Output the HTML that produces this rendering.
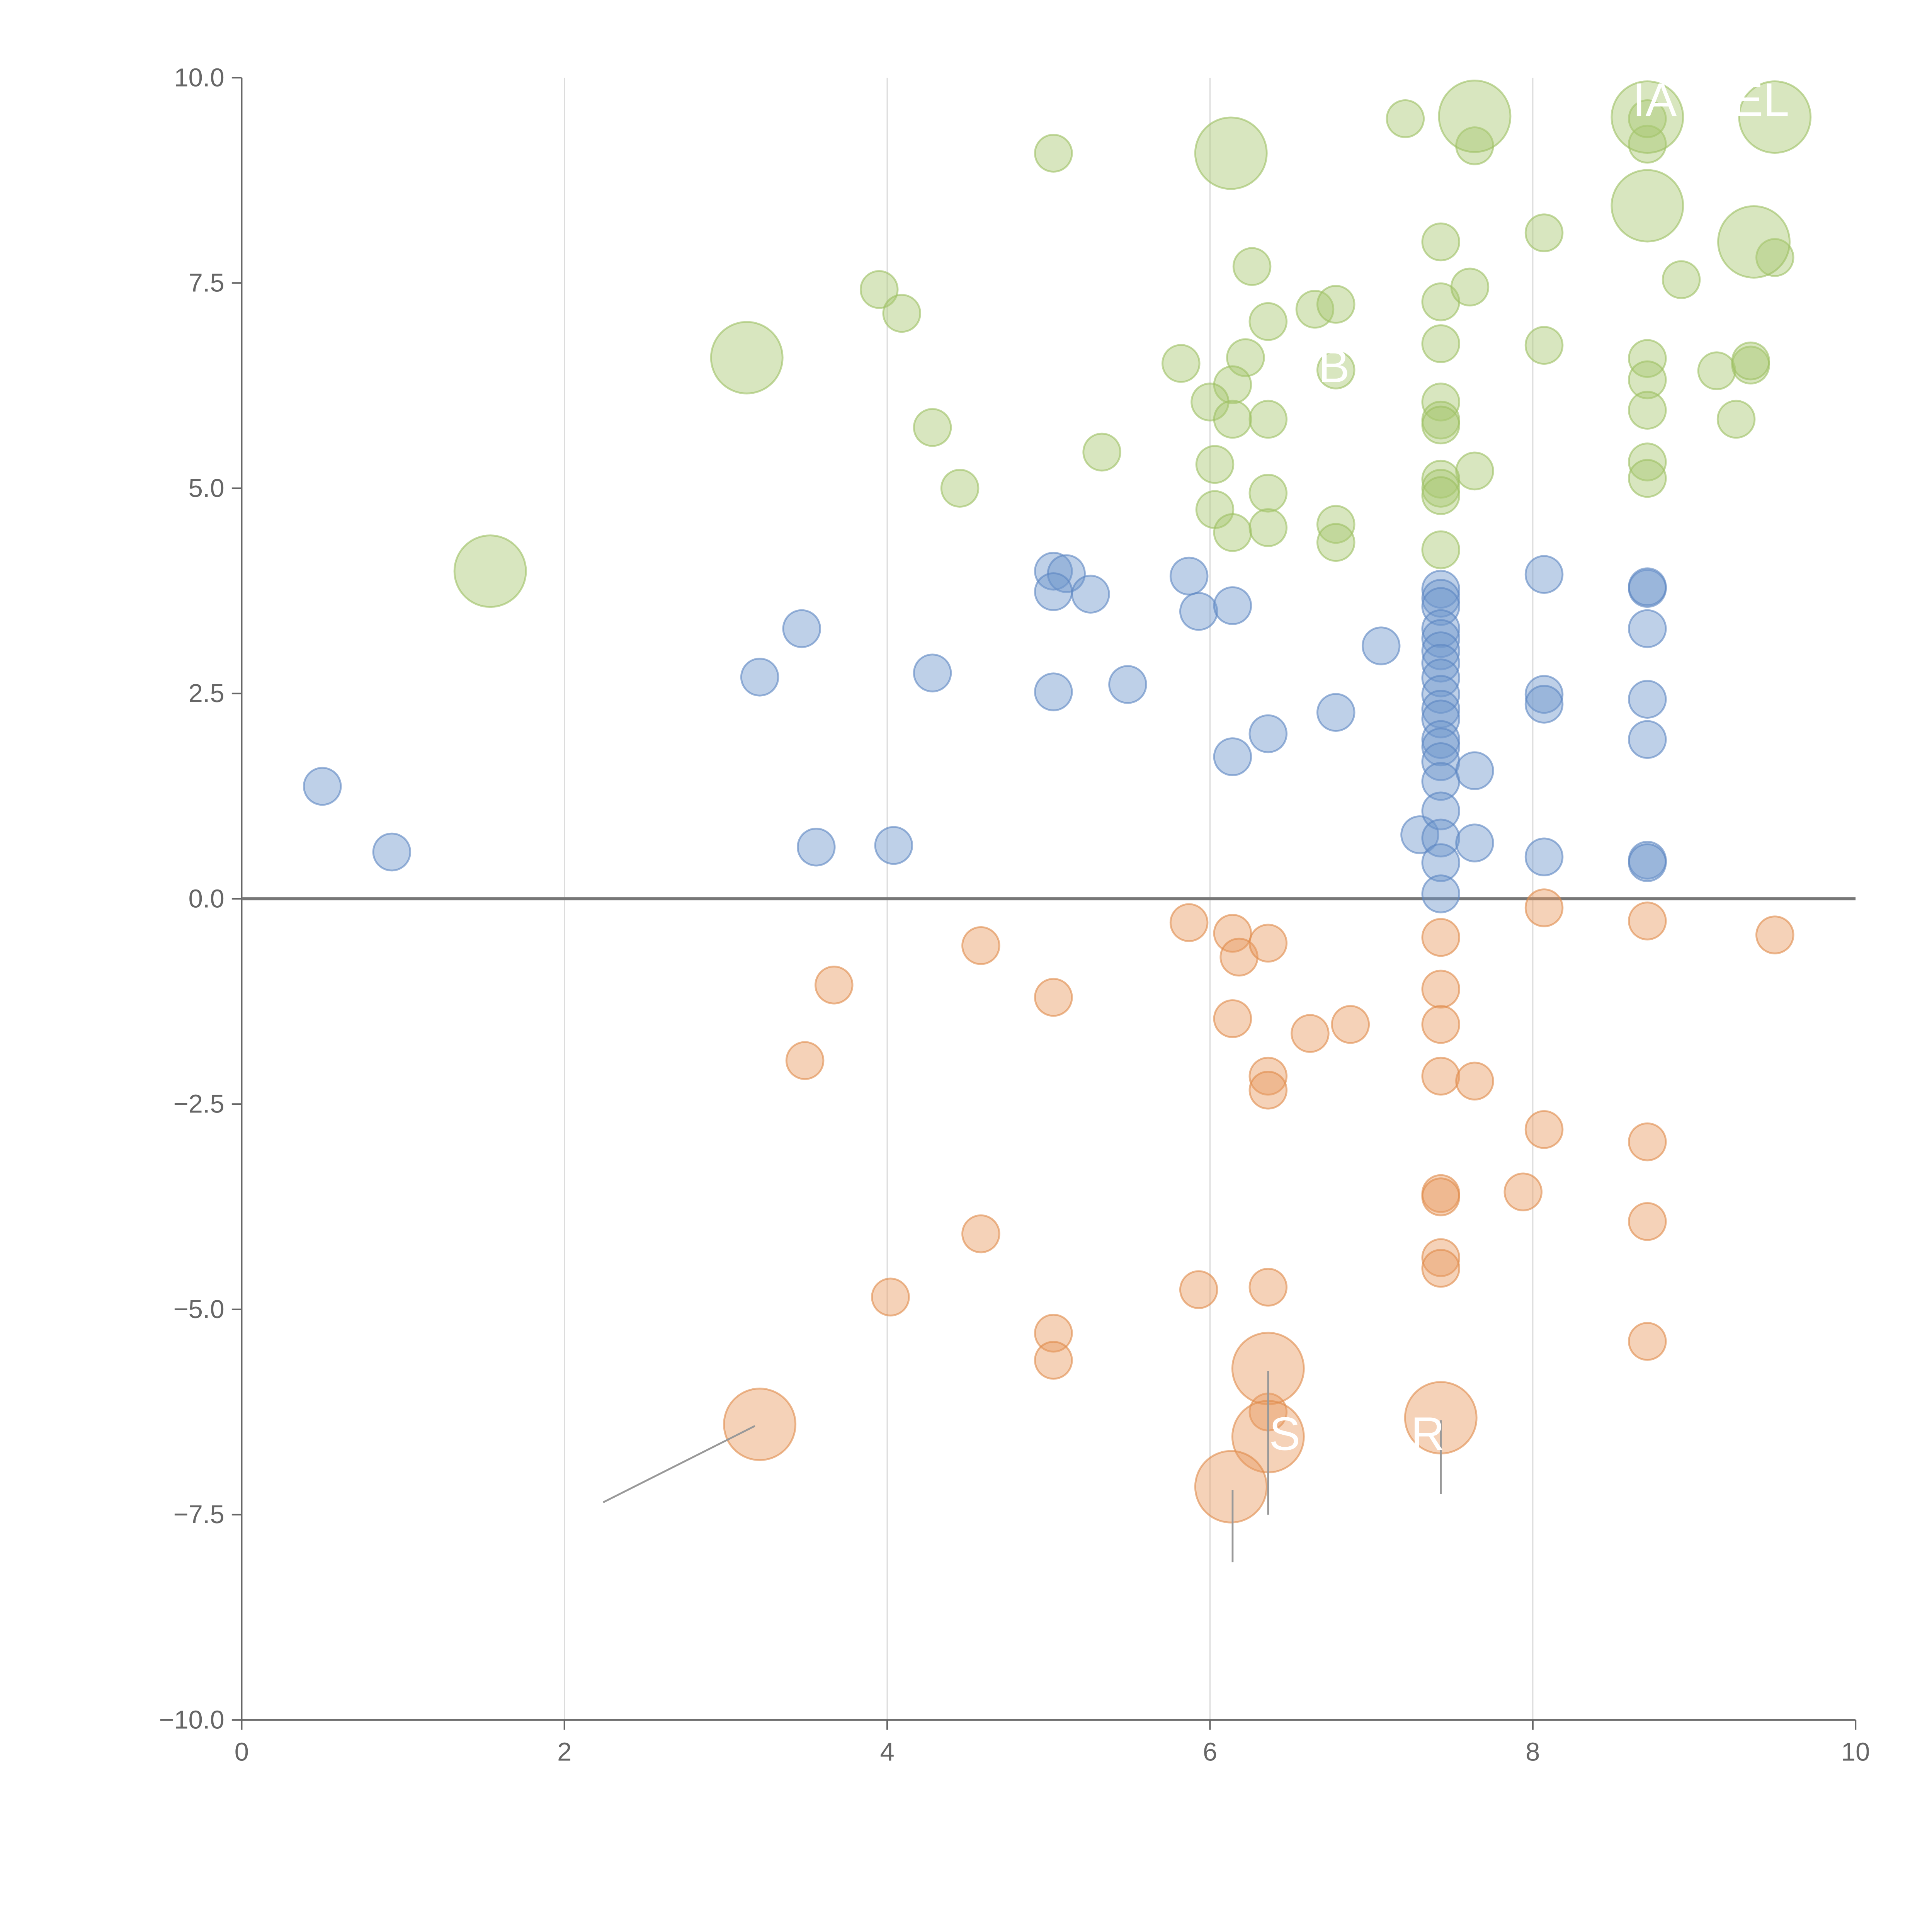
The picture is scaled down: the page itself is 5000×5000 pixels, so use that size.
<!DOCTYPE html>
<html><head><meta charset="utf-8"><style>
html,body{margin:0;padding:0;background:#fff}
svg{display:block}
text{font-family:"Liberation Sans",sans-serif}
</style></head><body>
<svg id="chart" width="5000" height="5000" viewBox="0 0 1567 1567" xmlns="http://www.w3.org/2000/svg">
<g id="grid"></g>
<g id="axes"></g>
<g id="marks"></g>
<g id="ann"></g>
</svg>
<script>
const xTicks=[0,2,4,6,8,10];
const yTicks=[10,7.5,5,2.5,0,-2.5,-5,-7.5,-10];
const yTickLabels=["10.0","7.5","5.0","2.5","0.0","\u22122.5","\u22125.0","\u22127.5","\u221210.0"];
const greenX=[5.03,7.21,7.64,7.43,8.07,6.26,3.95,4.09,6.36,6.65,6.78,7.43,7.61,7.43,8.07,5.82,6.22,6.14,6.78,6.00,6.14,6.36,7.43,7.43,7.43,4.28,5.33,6.03,7.64,4.45,7.43,7.43,7.43,6.03,6.36,6.14,6.36,6.78,6.78,7.43,8.71,8.71,8.71,8.71,8.71,8.71,8.71,8.92,9.14,9.35,9.35,9.26,9.50];
const greenY=[9.08,9.50,9.17,8.00,8.11,7.70,7.42,7.13,7.03,7.18,7.24,7.27,7.45,6.76,6.74,6.52,6.59,6.26,6.44,6.05,5.84,5.84,6.05,5.83,5.77,5.74,5.44,5.29,5.21,5.00,5.11,5.00,4.91,4.74,4.94,4.46,4.52,4.56,4.34,4.25,6.58,6.32,5.95,5.32,5.12,9.19,9.50,7.54,6.43,6.50,6.55,5.84,7.81];
const greenBigX=[1.54,3.13,6.13,7.64,8.71,8.71,9.37,9.50];
const greenBigY=[3.99,6.59,9.08,9.53,9.52,8.44,8.00,9.52];
const blueX=[0.50,0.93,3.21,3.47,3.56,4.04,4.28,5.03,5.11,5.03,5.26,5.03,5.49,5.87,5.93,6.14,6.14,6.36,6.78,7.06,7.30,7.43,7.43,7.43,7.43,7.43,7.43,7.43,7.43,7.43,7.43,7.43,7.43,7.43,7.43,7.43,7.43,7.43,7.43,7.43,7.64,7.64,8.07,8.07,8.07,8.07,8.71,8.71,8.71,8.71,8.71,8.71,8.71];
const blueY=[1.37,0.57,2.70,3.29,0.63,0.65,2.75,3.99,3.96,3.74,3.71,2.52,2.61,3.93,3.50,3.57,1.73,2.01,2.27,3.08,0.78,3.77,3.66,3.56,3.29,3.17,3.02,2.87,2.69,2.49,2.31,2.19,1.94,1.85,1.67,1.43,1.07,0.74,0.44,0.06,1.56,0.68,3.95,2.49,2.37,0.51,3.78,3.80,3.29,2.43,1.94,0.47,0.44];
const orangeX=[3.49,3.67,4.58,4.58,4.02,5.03,5.03,5.03,5.87,5.93,6.14,6.18,6.36,6.14,6.62,6.87,6.36,6.36,6.36,6.36,7.43,7.43,7.43,7.43,7.64,7.43,7.43,7.94,7.43,7.43,8.07,8.07,8.71,8.71,8.71,8.71,9.50];
const orangeY=[-1.97,-1.05,-0.57,-4.08,-4.85,-1.20,-5.29,-5.62,-0.29,-4.76,-0.42,-0.71,-0.54,-1.46,-1.64,-1.53,-2.16,-2.33,-4.73,-6.25,-0.47,-1.10,-1.53,-2.16,-2.22,-3.59,-3.63,-3.57,-4.37,-4.50,-0.11,-2.81,-0.27,-2.96,-3.93,-5.39,-0.44];
const orangeBigX=[3.21,6.36,6.36,6.13,7.43];
const orangeBigY=[-6.40,-5.72,-6.55,-7.16,-6.32];

const X0=196,X1=1505,Y0=1395,Y1=63;
const sx=v=>X0+(v-0)/(10-0)*(X1-X0);
const sy=v=>Y0-(v+10)/20*(Y0-Y1);
const NS="http://www.w3.org/2000/svg";
function mk(tag,attrs,parent){const e=document.createElementNS(NS,tag);for(const k in attrs)e.setAttribute(k,attrs[k]);parent.appendChild(e);return e;}
const grid=document.getElementById('grid'),axes=document.getElementById('axes'),marks=document.getElementById('marks'),ann=document.getElementById('ann');

xTicks.forEach(t=>{
  if(t>0&&t<10){const l=mk('line',{x1:sx(t),x2:sx(t),y1:Y1,y2:Y0,stroke:'#dcdcdc','stroke-width':1},grid);
  
  }
  const tk=mk('line',{x1:sx(t),x2:sx(t),y1:Y0,y2:Y0+8,stroke:'#666','stroke-width':1.3},axes);
  
  
  const tx=mk('text',{x:sx(t),y:Y0+33,'text-anchor':'middle','font-size':21,fill:'#666'},axes);
  tx.textContent=t;
  
  
});
yTicks.forEach((t,i)=>{
  const tk=mk('line',{x1:X0-8,x2:X0,y1:sy(t),y2:sy(t),stroke:'#666','stroke-width':1.3},axes);
  
  
  const tx=mk('text',{x:X0-14,y:sy(t)+7,'text-anchor':'end','font-size':21,fill:'#666'},axes);
  tx.textContent=yTickLabels[i];
  
  
});
const ls=mk('line',{x1:X0,x2:X0,y1:Y1,y2:Y0,stroke:'#666','stroke-width':1.3},axes);


const bs=mk('line',{x1:X0,x2:X1,y1:Y0,y2:Y0,stroke:'#666','stroke-width':1.3},axes);


const zl=mk('line',{x1:X0,x2:X1,y1:sy(0),y2:sy(0),stroke:'#777','stroke-width':2.5},axes);



[[2.24,-7.35,3.18,-6.42],[6.36,-5.75,6.36,-7.5],[6.14,-7.2,6.14,-8.08],[7.43,-6.35,7.43,-7.25]].forEach(s=>{
  const l=mk('line',{x1:sx(s[0]),y1:sy(s[1]),x2:sx(s[2]),y2:sy(s[3]),stroke:'#999','stroke-width':1.5},ann);
  
  
});

function series(xs,ys,r,fill,stroke,name){
  xs.forEach((x,i)=>{
    const c=mk('circle',{cx:sx(x),cy:sy(ys[i]),r:r,fill:fill,'fill-opacity':0.45,stroke:stroke,'stroke-opacity':0.6,'stroke-width':1.5},marks);
    
    
  });
}
series(greenX,greenY,15,'#a9c872','#9cbf63','bubble-positive-high');
series(greenBigX,greenBigY,29,'#a9c872','#9cbf63','bubble-positive-high-large');
series(blueX,blueY,15,'#6e96cc','#5b86c2','bubble-positive');
series(orangeX,orangeY,15,'#e89c62','#e08a4a','bubble-negative');
series(orangeBigX,orangeBigY,29,'#e89c62','#e08a4a','bubble-negative-large');

[['S',1042,1176],['R',1158,1176],['B',1082,310],['IA',1342,94],['EL',1428,94]].forEach(a=>{
  const t=mk('text',{x:a[1],y:a[2],'text-anchor':'middle','font-size':38,fill:'#fff'},ann);
  t.textContent=a[0];
  
  
});
</script>
</body></html>
